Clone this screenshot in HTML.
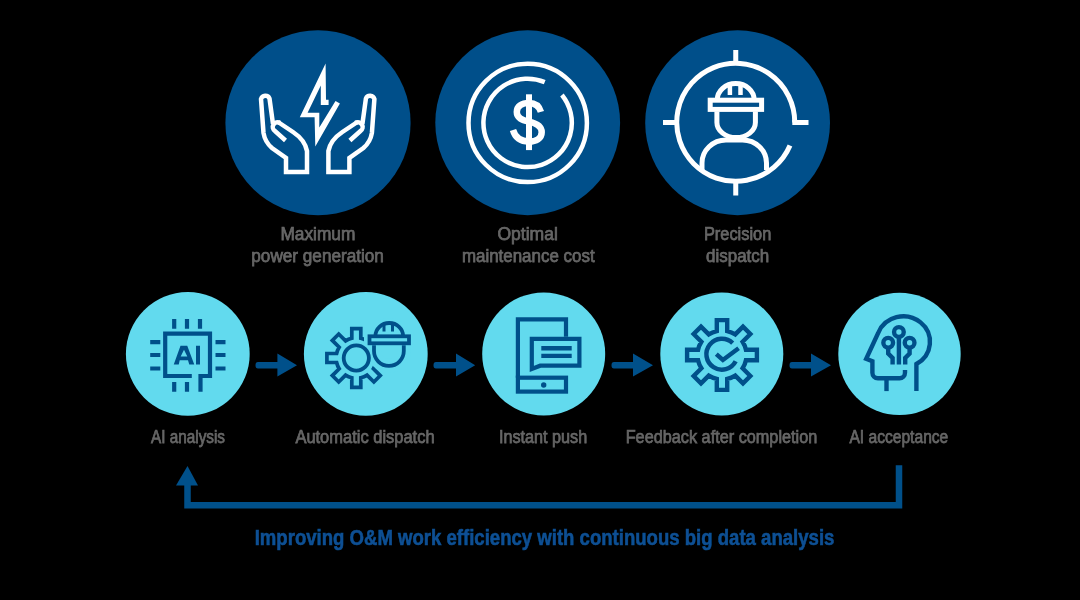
<!DOCTYPE html>
<html><head><meta charset="utf-8">
<style>
html,body{margin:0;padding:0;background:#000;width:1080px;height:600px;overflow:hidden}
svg{display:block}
text{font-family:"Liberation Sans",sans-serif}
</style></head>
<body>
<svg width="1080" height="600" viewBox="0 0 1080 600">
<defs><filter id="bl" x="-5%" y="-20%" width="110%" height="140%"><feGaussianBlur stdDeviation="0.4"/></filter></defs>
<rect width="1080" height="600" fill="#000"/>
<!-- big circles -->
<g fill="#004f8a">
<circle cx="318" cy="122.75" r="92.6"/>
<circle cx="527.7" cy="122.75" r="92.4"/>
<circle cx="737.6" cy="122.75" r="92.4"/>
</g>
<!-- small circles -->
<g fill="#62daee">
<circle cx="187.8" cy="353.9" r="61.9"/>
<circle cx="365.8" cy="353.9" r="61.9"/>
<circle cx="543.7" cy="353.9" r="61.5"/>
<circle cx="721.8" cy="353.9" r="61.5"/>
<circle cx="899.5" cy="353.9" r="61.2"/>
</g>
<!-- arrows -->
<g fill="#00508a">
<path d="M258,362 H277.4 V353.6 L297,365.2 L277.4,376.5 V368.5 H258 A2.5,3.25 0 0 1 258,362 Z"/>
<path d="M436,362 H456 V353.6 L475.2,365.2 L456,376.5 V368.5 H436 A2.5,3.25 0 0 1 436,362 Z"/>
<path d="M614,362 H633 V353.6 L653,365.2 L633,376.5 V368.5 H614 A2.5,3.25 0 0 1 614,362 Z"/>
<path d="M792,362 H811 V353.6 L831,365.2 L811,376.5 V368.5 H792 A2.5,3.25 0 0 1 792,362 Z"/>
</g>
<!-- loop arrow -->
<path d="M187.5,485 V505.3 H899 V465.2" fill="none" stroke="#00508a" stroke-width="6.5" stroke-linejoin="miter"/>
<path d="M176,485.5 L187.5,466 L198,485.5 Z" fill="#00508a"/>

<!-- icon 1: hands + bolt -->
<path fill="#fff" d="M325.6,63.4 L326,99.8 H328.6 V104.9 H320.8 V85.5 L307.6,112.7 H319.3 V127.5 L335.5,101.1 L339.9,103.5 L315.3,146.6 L314.6,117.3 H299.8 Z"/>
<g fill="none" stroke="#fff" stroke-width="4.5" stroke-linejoin="miter" stroke-linecap="butt">

<g id="hand">
<path d="M273,124 L269.5,98.5 A4.5,4.5 0 0 0 261,99 L263.5,133 Q265,142 272,148 L286,158 V172 H307 V151 Q305,140 293,132 L278,122"/>
<path d="M285.5,140.5 L275,131 A4,4 0 0 1 280,123"/>
</g>
<use href="#hand" transform="translate(635.4,0) scale(-1,1)"/>
</g>

<!-- icon 2: dollar -->
<g fill="none" stroke="#fff" stroke-width="4.5">
<circle cx="527.7" cy="122.9" r="59.2"/>
<path d="M544.73,82.15 A44.2,44.2 0 1 0 561.92,95.03"/>
<path d="M540.9,111.9 C539,105.5 534.5,103 529,103 C521.5,103 516.8,106.5 516.8,112 C516.8,118 522,120 529,121.7 C537,123.5 541.7,126.5 541.7,132.2 C541.7,138.5 536,141.45 529,141.45 C520,141.45 515,137 513,130" stroke-width="6.5"/>
<path d="M529,94.3 V150.1" stroke-width="6"/>
</g>

<!-- icon 3: worker crosshair -->
<g fill="none" stroke="#fff" stroke-width="5">
<path d="M794.75,122.5 A59,59 0 1 0 790,145.5"/>
<path d="M792.3,122.5 H808.5 M735.75,50 V64 M735.75,181 V195.5 M663,122.5 H677"/>
<path d="M717.2,100 A18.5,16.5 0 0 1 754.2,100"/>
<rect x="710.2" y="100.2" width="51.4" height="9.2"/>
<path d="M729.9,85 V95 M740.5,85 V95" stroke-width="4.5"/>
<path d="M716.9,111.5 V122.5 A19.25,15 0 0 0 755.4,122.5 V111.5"/>
<path d="M702,172 V163 A24,23 0 0 1 726,140 H742.5 A24,23 0 0 1 766.5,163 V170"/>
</g>

<!-- icon 4: AI chip -->
<g fill="none" stroke="#00508a" stroke-width="4.2">
<path d="M191.8,376 H165.2 V333.7 H210 V376 H200.5 V391.8"/>
<path d="M174.2,319 V328.8 M187,319 V328.8 M200,319 V328.8 M174.2,382 V391.8 M187,382 V391.8"/>
<path d="M150.2,342.2 H160.3 M150.2,355 H160.3 M150.2,368.5 H160.3 M215.5,342.2 H225.5 M215.5,355 H225.5 M215.5,368.5 H225.5"/>
</g>
<path fill="#00508a" fill-rule="evenodd" d="M180.5,345.75 H187.25 L194.25,364.5 H189.25 L188,360.3 H179.7 L178.75,364.5 H173.75 Z M184,349.75 L187.3,356.6 H180.7 Z M196,345.75 H200 V364.5 H196 Z"/>

<!-- icon 5: gear + helmet -->
<path d="M351.80,338.31 L351.80,328.60 L360.80,328.60 L360.80,338.31 A20.20,20.20 0 0 1 367.04,340.89 L373.91,334.03 L380.27,340.39 L373.41,347.26 A20.20,20.20 0 0 1 375.99,353.50 L385.70,353.50 L385.70,362.50 L375.99,362.50 A20.20,20.20 0 0 1 373.41,368.74 L380.27,375.61 L373.91,381.97 L367.04,375.11 A20.20,20.20 0 0 1 360.80,377.69 L360.80,387.40 L351.80,387.40 L351.80,377.69 A20.20,20.20 0 0 1 345.56,375.11 L338.69,381.97 L332.33,375.61 L339.19,368.74 A20.20,20.20 0 0 1 336.61,362.50 L326.90,362.50 L326.90,353.50 L336.61,353.50 A20.20,20.20 0 0 1 339.19,347.26 L332.33,340.39 L338.69,334.03 L345.56,340.89 A20.20,20.20 0 0 1 351.80,338.31 Z" fill="none" stroke="#00508a" stroke-width="3.7"/>
<g fill="#62daee" stroke="#62daee" stroke-width="11" stroke-linejoin="round">
<path d="M375.4,336.5 A13.85,13 0 0 1 403.1,336.5 Z"/>
<rect x="369.5" y="336.5" width="39.5" height="7"/>
<path d="M374,343 V351 A14.9,14.9 0 0 0 403.8,351 V343 Z" stroke-width="14"/>
</g>
<circle cx="356.3" cy="358" r="12.6" fill="none" stroke="#00508a" stroke-width="3.8"/>
<g fill="none" stroke="#00508a" stroke-width="3.8">
<path d="M375.4,336 A13.85,13 0 0 1 403.1,336"/>
<rect x="369.5" y="336.3" width="39.5" height="7"/>
<path d="M374,345.3 V351 A14.9,14.9 0 0 0 403.8,351 V345.3"/>
<path d="M384,325 V331.5 M392.5,325 V331.5" stroke-width="3"/>
</g>

<!-- icon 6: phone -->
<g fill="none" stroke="#00508a" stroke-width="4.2">
<path d="M566,336.7 V319.3 H517.9 V377.7"/>
<rect x="517.9" y="377.7" width="48.1" height="13.9"/>
<path d="M531.8,338.8 H579.4 V365.7 H540.2 L531.8,369 Z"/>
<path d="M541.3,348.2 H571.7 M541.3,355.9 H571.7" stroke-width="4.4"/>
</g>
<circle cx="543.7" cy="385" r="2.7" fill="#00508a"/>

<!-- icon 7: gear check -->
<g fill="none" stroke="#00508a" stroke-width="4.4">
<path d="M716.80,331.06 L716.80,320.10 L727.20,320.10 L727.20,331.06 A24.50,24.50 0 0 1 735.25,334.39 L743.00,326.65 L750.35,334.00 L742.61,341.75 A24.50,24.50 0 0 1 745.94,349.80 L756.90,349.80 L756.90,360.20 L745.94,360.20 A24.50,24.50 0 0 1 742.61,368.25 L750.35,376.00 L743.00,383.35 L735.25,375.61 A24.50,24.50 0 0 1 727.20,378.94 L727.20,389.90 L716.80,389.90 L716.80,378.94 A24.50,24.50 0 0 1 708.75,375.61 L701.00,383.35 L693.65,376.00 L701.39,368.25 A24.50,24.50 0 0 1 698.06,360.20 L687.10,360.20 L687.10,349.80 L698.06,349.80 A24.50,24.50 0 0 1 701.39,341.75 L693.65,334.00 L701.00,326.65 L708.75,334.39 A24.50,24.50 0 0 1 716.80,331.06 Z"/>
<path d="M732.67,343.05 A15.5,15.5 0 1 0 735.66,361.33" stroke-width="4.5"/>
<path d="M716.3,354.1 L722.9,360 L738.6,348.2" stroke-width="4.4"/>
</g>

<!-- icon 8: head -->
<g fill="none" stroke="#00508a" stroke-width="4.4">
<path d="M916.4,391.1 V364 A26.7,25.5 0 1 0 878.2,333 L866.2,358.8 L872.4,361.2 V372.8 A5.5,5.5 0 0 0 877.9,378.3 H899.5 A5.5,5.5 0 0 0 905,372.8 V369.9"/>
<path d="M886.5,378 V391.1"/>
<circle cx="898.9" cy="332" r="4.85"/>
<circle cx="888.2" cy="342.75" r="4.85"/>
<circle cx="909.6" cy="342.75" r="4.85"/>
<path d="M898.9,336.8 V364.6 M888.2,347.6 V353.6 L892.6,358 V364.6 M909.6,347.6 V353.6 L905.2,358 V364.6" stroke-linejoin="miter"/>
</g>

<!-- labels -->
<g fill="#666666" stroke="#666666" stroke-width="0.75" font-size="18" filter="url(#bl)">
<text x="280.4" y="240.1" textLength="75" lengthAdjust="spacingAndGlyphs">Maximum</text>
<text x="251.3" y="261.9" textLength="132.6" lengthAdjust="spacingAndGlyphs">power generation</text>
<text x="497.4" y="240.1" textLength="60.4" lengthAdjust="spacingAndGlyphs">Optimal</text>
<text x="461.9" y="261.9" textLength="132.7" lengthAdjust="spacingAndGlyphs">maintenance cost</text>
<text x="703.9" y="240.1" textLength="67.4" lengthAdjust="spacingAndGlyphs">Precision</text>
<text x="706" y="261.9" textLength="63.2" lengthAdjust="spacingAndGlyphs">dispatch</text>
<text x="151.1" y="443.4" textLength="73.9" lengthAdjust="spacingAndGlyphs">AI analysis</text>
<text x="295.4" y="443.4" textLength="139.2" lengthAdjust="spacingAndGlyphs">Automatic dispatch</text>
<text x="498.9" y="443.4" textLength="88.3" lengthAdjust="spacingAndGlyphs">Instant push</text>
<text x="625.7" y="443.4" textLength="191.6" lengthAdjust="spacingAndGlyphs">Feedback after completion</text>
<text x="849.4" y="443.4" textLength="98.9" lengthAdjust="spacingAndGlyphs">AI acceptance</text>
</g>
<text x="254.7" y="544.5" font-size="21.5" font-weight="bold" fill="#0b5094" stroke="#0b5094" stroke-width="0.6" filter="url(#bl)" textLength="579.7" lengthAdjust="spacingAndGlyphs">Improving O&amp;M work efficiency with continuous big data analysis</text>
</svg>
</body></html>
